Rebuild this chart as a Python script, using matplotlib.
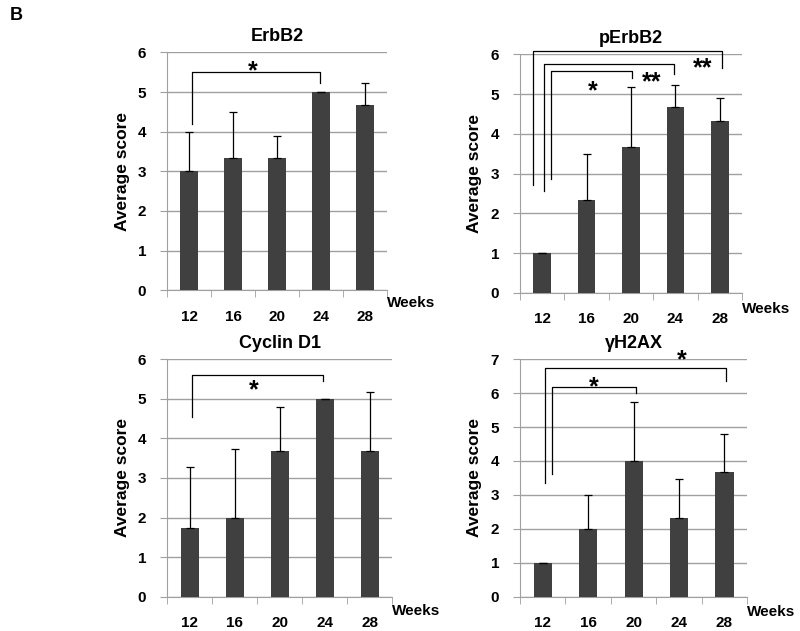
import numpy as np
import matplotlib.pyplot as plt

plt.rcParams['font.family'] = ['Liberation Sans', 'DejaVu Sans']
plt.rcParams['font.weight'] = 'bold'

# Data
weeks = ['12', '16', '20', '24', '28']

erbb2 = [3.0, 3.33, 3.33, 5.0, 4.67]
erbb2_err = [1.0, 1.17, 0.57, 0.0, 0.56]

perbb2 = [1.0, 2.33, 3.67, 4.67, 4.33]
perbb2_err = [0.0, 1.15, 1.51, 0.55, 0.57]

cyclin = [1.75, 2.0, 3.67, 5.0, 3.67]
cyclin_err = [1.52, 1.73, 1.13, 0.0, 1.51]

h2ax = [1.0, 2.0, 4.0, 2.33, 3.67]
h2ax_err = [0.0, 1.0, 1.73, 1.15, 1.13]

# brackets: (x left, left leg bottom, x right, right leg bottom, top y)
erbb2_br = [(0.06, 4.2, 2.98, 5.24, 5.5)]
erbb2_stars = [(1.45, 5.72, '*')]

perbb2_br = [(-0.21, 2.72, 4.05, 5.65, 6.07),
             (0.03, 2.55, 2.96, 5.5, 5.76),
             (0.2, 2.86, 2.03, 5.4, 5.58)]
perbb2_stars = [(1.14, 5.27, '*'), (2.47, 5.48, '**'), (3.62, 5.83, '**')]

cyclin_br = [(0.06, 4.55, 2.97, 5.44, 5.6)]
cyclin_stars = [(1.43, 5.39, '*')]

h2ax_br = [(0.04, 3.35, 4.04, 6.35, 6.75),
           (0.2, 3.63, 2.05, 6.0, 6.17)]
h2ax_stars = [(1.12, 6.4, '*'), (3.07, 7.18, '*')]

bar_color = '#404040'
grid_color = '#a0a0a0'


def score_panel(ax, vals, errs, title, ymax, brackets, stars, weeks_y):
    x = np.arange(len(weeks))
    ax.bar(x, vals, width=0.4, color=bar_color, zorder=3)
    ax.errorbar(x, vals, yerr=[np.zeros(len(errs)), errs], fmt='none',
                ecolor='black', elinewidth=0.9, capsize=3, capthick=0.9,
                zorder=4)
    ax.set_xlim(-0.5, len(weeks) - 0.5)
    ax.set_ylim(0, ymax)
    ax.set_yticks(np.arange(0, ymax + 1))
    ax.yaxis.grid(True, color=grid_color, linewidth=1.0, zorder=0)
    ax.set_axisbelow(True)

    # category labels at centres, tick marks between categories
    ax.set_xticks(x)
    ax.set_xticklabels(weeks)
    ax.tick_params(axis='x', which='major', length=0, pad=14, labelsize=11)
    ax.set_xticks(np.arange(-0.5, len(weeks)), minor=True)
    ax.tick_params(axis='x', which='minor', length=5, color=grid_color,
                   direction='out')
    ax.tick_params(axis='y', length=5, color=grid_color, labelsize=11,
                   pad=10)

    for s in ['top', 'right']:
        ax.spines[s].set_visible(False)
    for s in ['left', 'bottom']:
        ax.spines[s].set_color(grid_color)

    ax.set_title(title, fontsize=13, fontweight='bold', pad=8)
    ax.set_ylabel('Average score', fontsize=12.5, fontweight='bold',
                  labelpad=6)
    ax.text(1.0, weeks_y, 'Weeks', transform=ax.transAxes, fontsize=11,
            fontweight='bold', va='center', ha='left')

    for x0, y0, x1, y1, top in brackets:
        ax.plot([x0, x0, x1, x1], [y0, top, top, y1], color='black',
                linewidth=0.9, clip_on=False, zorder=5)
    # star centre placed at (sx, sy)
    for sx, sy, st in stars:
        ax.annotate(st, (sx, sy), xytext=(0, -10.5),
                    textcoords='offset points', fontsize=18,
                    fontweight='bold', ha='center', va='baseline',
                    annotation_clip=False)


fig = plt.figure(figsize=(8, 6.31), dpi=100)

ax1 = fig.add_axes([0.209, 0.540, 0.275, 0.377])
ax2 = fig.add_axes([0.650, 0.536, 0.2775, 0.378])
ax3 = fig.add_axes([0.209, 0.054, 0.281, 0.377])
ax4 = fig.add_axes([0.650, 0.054, 0.284, 0.377])

score_panel(ax1, erbb2, erbb2_err, 'ErbB2', 6, erbb2_br, erbb2_stars,
            -0.055)
score_panel(ax2, perbb2, perbb2_err, 'pErbB2', 6, perbb2_br, perbb2_stars,
            -0.07)
score_panel(ax3, cyclin, cyclin_err, 'Cyclin D1', 6, cyclin_br,
            cyclin_stars, -0.06)
score_panel(ax4, h2ax, h2ax_err, 'γH2AX', 7, h2ax_br, h2ax_stars, -0.063)

fig.text(0.012, 0.975, 'B', fontsize=13, fontweight='bold', va='center')

plt.savefig('out.png', dpi=100)
